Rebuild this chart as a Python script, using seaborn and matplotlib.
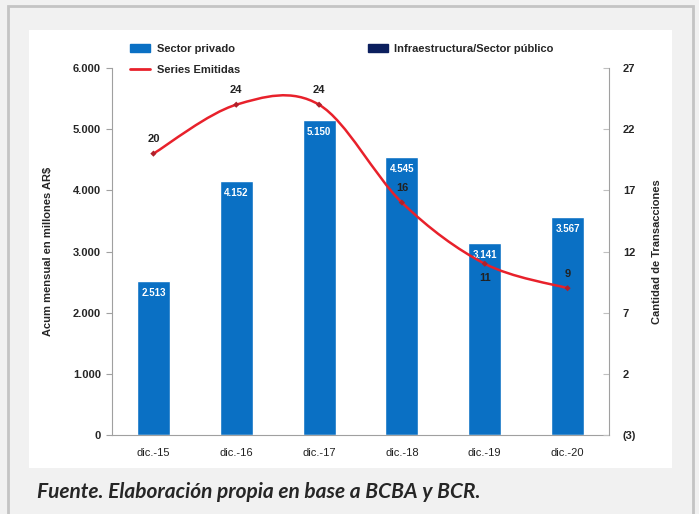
import numpy as np
import matplotlib.pyplot as plt
import seaborn as sns
from matplotlib.patches import Rectangle
from matplotlib.path import Path
from matplotlib.patches import PathPatch
from matplotlib.lines import Line2D
from matplotlib.ticker import FuncFormatter, FixedLocator

categories = ["dic.-15", "dic.-16", "dic.-17", "dic.-18", "dic.-19", "dic.-20"]
sector_privado = [2513, 4152, 5150, 4545, 3141, 3567]
series_emitidas = [20, 24, 24, 16, 11, 9]
privado_labels = ["2.513", "4.152", "5.150", "4.545", "3.141", "3.567"]

blue = "#0a70c4"
navy = "#0b1f5e"
red = "#e8212b"

sns.set_style("white")
plt.rcParams["font.family"] = ["Liberation Sans", "DejaVu Sans"]

fig = plt.figure(figsize=(6.99, 5.14), dpi=100)
fig.patch.set_facecolor("#f1f1f1")
# outer frame and white panel (kept behind the axes)
fig.patches.append(Rectangle((8 / 699, -0.05), 685 / 699, 1 - 6 / 514 + 0.05,
                             transform=fig.transFigure, fill=False,
                             edgecolor="#c4c4c4", linewidth=2, zorder=-10))
fig.patches.append(Rectangle((29 / 699, 1 - 468 / 514), 643 / 699, 438 / 514,
                             transform=fig.transFigure, facecolor="white",
                             edgecolor="none", zorder=-10))

ax = fig.add_axes([112 / 699, 1 - 435 / 514, 497 / 699, 367 / 514])
ax.set_facecolor("none")
sns.barplot(x=categories, y=sector_privado, color=blue, width=0.4,
            saturation=1, ax=ax, zorder=2)
ax.set_ylim(0, 6000)
ax.set_xlim(-0.5, 5.5)
ax.yaxis.set_major_locator(FixedLocator(range(0, 6001, 1000)))
ax.yaxis.set_major_formatter(FuncFormatter(lambda v, p: f"{int(v):,}".replace(",", ".")))
ax.set_ylabel("Acum mensual en millones AR$", fontsize=8, fontweight="bold", labelpad=14)
ax.set_xlabel("")
for s in ["top", "right"]:
    ax.spines[s].set_visible(False)
for s in ["left", "bottom"]:
    ax.spines[s].set_color("#a0a0a0")
    ax.spines[s].set_linewidth(0.8)
ax.tick_params(axis="y", direction="out", length=4, color="#a0a0a0", labelsize=8,
               pad=4, left=True)
ax.tick_params(axis="x", length=0, labelsize=8, pad=9)
ax.set_xticks(np.arange(-0.5, 6, 1), minor=True)
ax.tick_params(axis="x", which="minor", direction="out", length=4, color="#c0c0c0")
for lab in ax.get_yticklabels():
    lab.set_fontweight("bold")
for lab in ax.get_xticklabels():
    lab.set_color("#222222")

for i, (v, t) in enumerate(zip(sector_privado, privado_labels)):
    ax.text(i, v - 110, t, ha="center", va="top", fontsize=7, color="white",
            fontweight="bold", zorder=4)

# secondary axis with smoothed line
ax2 = ax.twinx()
ax2.set_ylim(-3, 27)
ax2.yaxis.set_major_locator(FixedLocator(range(-3, 28, 5)))
ax2.yaxis.set_major_formatter(FuncFormatter(lambda v, p: f"({abs(int(v))})" if v < 0 else f"{int(v)}"))
for s in ["top", "left", "bottom"]:
    ax2.spines[s].set_visible(False)
ax2.spines["right"].set_color("#a0a0a0")
ax2.spines["right"].set_linewidth(0.8)
ax2.tick_params(axis="y", direction="in", length=4, color="#c0c0c0", labelsize=8, pad=10)
for lab in ax2.get_yticklabels():
    lab.set_fontweight("bold")
ax2.set_ylabel("Cantidad de Transacciones", fontsize=8, fontweight="bold", labelpad=11)

xs = np.arange(len(series_emitidas), dtype=float)
ys = np.array(series_emitidas, dtype=float)
pts = np.column_stack([xs, ys])
ext = np.vstack([pts[0], pts, pts[-1]])
verts = [tuple(pts[0])]
codes = [Path.MOVETO]
for i in range(len(pts) - 1):
    p0, p1, p2, p3 = ext[i], ext[i + 1], ext[i + 2], ext[i + 3]
    c1 = p1 + (p2 - p0) / 6
    c2 = p2 - (p3 - p1) / 6
    verts += [tuple(c1), tuple(c2), tuple(p2)]
    codes += [Path.CURVE4] * 3
ax2.add_patch(PathPatch(Path(verts, codes), facecolor="none", edgecolor=red,
                        linewidth=1.8, zorder=3))
sns.scatterplot(x=xs, y=ys, marker="D", s=10, color="#b0202a", edgecolor="none",
                ax=ax2, zorder=4, legend=False)

offsets = [10.5, 10.5, 10.5, 10.5, -10.5, 10.5]
for i, (v, o) in enumerate(zip(series_emitidas, offsets)):
    ax2.annotate(str(v), (i, v), xytext=(0, o), textcoords="offset points",
                 ha="center", va="center", fontsize=8, fontweight="bold",
                 color="#222222")

handles = [Rectangle((0, 0), 1, 1, color=blue),
           Line2D([], [], color=red, linewidth=2),
           Rectangle((0, 0), 1, 1, color=navy)]
labels = ["Sector privado", "Series Emitidas", "Infraestructura/Sector público"]
fig.legend(handles, labels, ncol=2, loc="upper left",
           bbox_to_anchor=(120 / 699, 1 - 34 / 514), frameon=False,
           prop={"size": 8, "weight": "bold"}, handlelength=1.8,
           columnspacing=11.5, labelspacing=0.95, handletextpad=0.6)

fig.text(37 / 699, 1 - 492 / 514, "Fuente. Elaboración propia en base a BCBA y BCR.",
         fontsize=15, fontweight="bold", fontstyle="italic", va="center",
         family=["Lato", "DejaVu Sans"])

fig.savefig("out.png", dpi=100, facecolor=fig.get_facecolor())
